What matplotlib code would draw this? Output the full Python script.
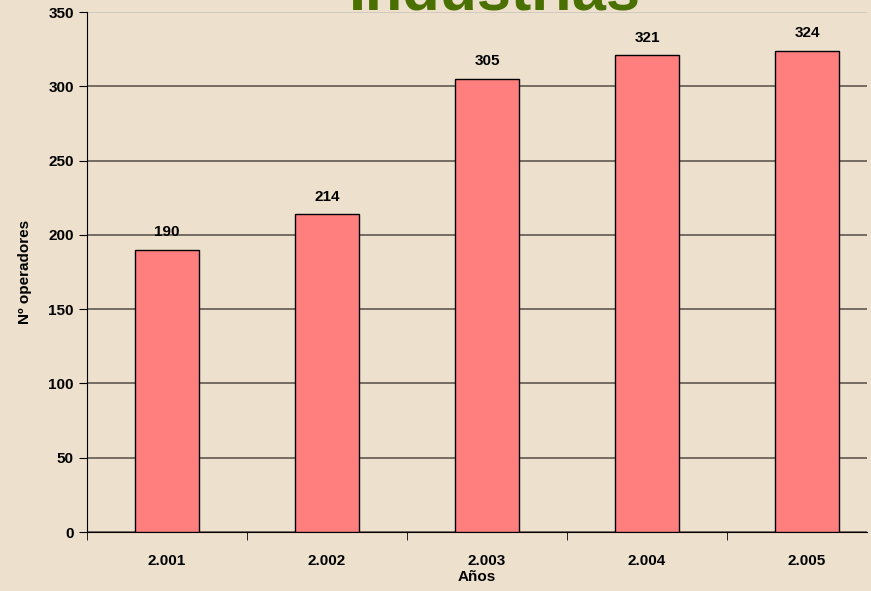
import numpy as np
import matplotlib.pyplot as plt

plt.rcParams['font.family'] = ['Liberation Sans', 'DejaVu Sans']

years = ['2.001', '2.002', '2.003', '2.004', '2.005']
operadores = [190, 214, 305, 321, 324]

bg = '#ede0cc'
fig = plt.figure(figsize=(8.71, 5.91), dpi=100, facecolor=bg)
ax = fig.add_axes([87/871, 59/591, 780/871, 520/591], facecolor=bg)

x = np.arange(len(years))
bars = ax.bar(x, operadores, width=0.4, color='#ff7f7f', edgecolor='black', linewidth=1, zorder=3)
for xi, v in zip(x, operadores):
    ax.text(xi, v + 7, str(v), ha='center', va='bottom', fontsize=11, fontweight='bold')

ax.set_yticks(range(0, 351, 50))
ax.set_xticks(x)
ax.set_xticklabels(years, fontsize=11, fontweight='bold')
ax.set_xticks(np.arange(-0.5, 5, 1), minor=True)
ax.set_xlim(-0.5, -0.5 + 780/160)
ax.set_ylim(0, 350)
ax.tick_params(axis='x', which='major', length=0, pad=16)
ax.tick_params(axis='x', which='minor', length=6, direction='out', color='black')
ax.tick_params(axis='y', length=6, direction='out', labelsize=11)
for lab in ax.get_yticklabels():
    lab.set_fontweight('bold')

ax.grid(axis='y', color='#6b625a', linewidth=1.3, zorder=0)
ax.yaxis.get_gridlines()[-1].set_color('#d0c8c0')
ax.spines['top'].set_visible(False)
ax.spines['right'].set_visible(False)
ax.spines['left'].set_color('black')
ax.spines['bottom'].set_color('black')

ax.set_xlabel('Años', fontsize=11, fontweight='bold', labelpad=1)
ax.set_ylabel('Nº operadores', fontsize=11, fontweight='bold', labelpad=12)

fig.text(495/871, 1 - 9/591, 'Industrias', ha='center', va='baseline',
         fontsize=44, fontweight='bold', color='#4a7000')

plt.savefig('out.png', dpi=100, facecolor=bg)
